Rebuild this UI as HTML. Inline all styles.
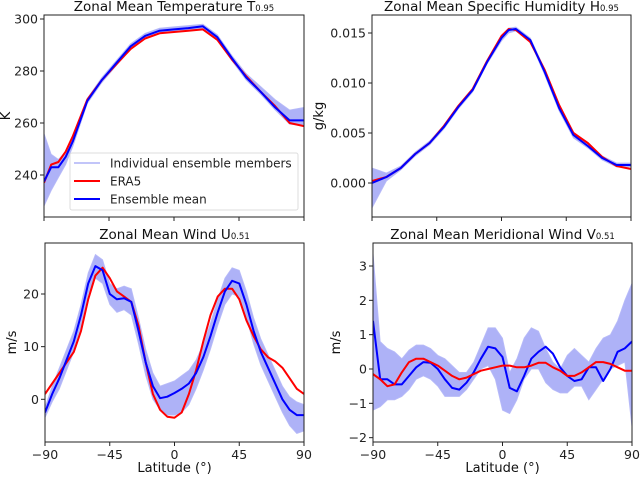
<!DOCTYPE html>
<html><head><meta charset="utf-8">
<style>
html,body{margin:0;padding:0;background:#fff;}
svg{display:block;font-family:"DejaVu Sans","Liberation Sans",sans-serif;}
</style></head>
<body>
<svg id="chart" width="640" height="478" viewBox="0 0 640 478" xmlns="http://www.w3.org/2000/svg"></svg>
<script>
// ---- Data ----
const latsT = [-90,-85,-80,-75,-70,-60,-50,-40,-30,-20,-10,0,10,20,30,40,50,60,70,80,90];
const tMean = [237.5,243,243,247,253,268.5,276.5,283,289.5,293.5,295.5,296,296.5,297.2,293,285,277.5,272,266,261,261];
const tEra5 = [237,244,245,249,255,269,276.5,282.5,288.5,292.5,294.5,295,295.5,296,292,284.5,278,272,266.5,260,258.8];
const tHi   = [256,248,246,249,254.5,269.5,277.5,284,290.5,294.5,296.5,297,297.5,298,294,286,279,274,269,265,266];
const tLo   = [228,234,239,244,251,267.5,275.5,282,288.5,292.5,294.5,295,295.5,296.2,292,284,276.5,271,265,259.5,259];
const tTicks = [240,260,280,300];

const latsH = [-90,-80,-70,-60,-50,-40,-30,-20,-10,0,5,10,20,30,40,50,60,70,80,90];
const hMean = [0.0000,0.0006,0.0015,0.0029,0.0040,0.0056,0.0076,0.0093,0.0121,0.0145,0.0153,0.0154,0.0143,0.0111,0.0075,0.0048,0.0037,0.0025,0.0018,0.0018];
const hEra5 = [0.0002,0.0006,0.0015,0.0029,0.0040,0.0057,0.0077,0.0094,0.0122,0.0147,0.0154,0.0153,0.0141,0.0113,0.0078,0.0050,0.0040,0.0026,0.0017,0.0014];
const hHi   = [0.0015,0.0010,0.0017,0.0031,0.0042,0.0058,0.0078,0.0095,0.0123,0.0147,0.0155,0.0156,0.0145,0.0114,0.0078,0.0051,0.0040,0.0027,0.0020,0.0020];
const hLo   = [-0.0025,0.0002,0.0013,0.0027,0.0038,0.0054,0.0074,0.0091,0.0119,0.0142,0.0150,0.0152,0.0141,0.0108,0.0072,0.0045,0.0035,0.0023,0.0016,0.0016];
const hTicks = [0.000,0.005,0.010,0.015];
const hTickLabels = ["0.000","0.005","0.010","0.015"];

const lats5 = [-90,-85,-80,-75,-70,-65,-60,-55,-50,-45,-40,-35,-30,-25,-20,-15,-10,-5,0,5,10,15,20,25,30,35,40,45,50,55,60,65,70,75,80,85,90];
const uMean = [-2.5,1,4,7.5,11,16,22,25.3,24.5,20,19,19.2,18.5,13,7,2.5,0.2,0.5,1.2,2,3,5,8,12,16.5,20.5,22.5,22,18,13,9,6,3,0,-2,-3,-3];
const uEra5 = [1,3,5,7,9,13,19,23.5,25,23,20.5,19.5,18.5,14,7,1,-2,-3.3,-3.5,-2.5,1,5.5,11,16,19.5,21,21,19,15,12,9.5,8,7.2,6,4,2,1];
const uHi   = [-1.5,2.5,6,9.5,13,18,24,27.5,26.5,22,21,21.5,21,15.5,9.5,5,2.5,3,3.5,4.5,5.5,7.5,10.5,14.5,19,23,25,24.5,20.5,15.5,11.5,8.5,5.5,2.5,0.5,-0.5,-1];
const uLo   = [-3.5,-0.5,2,5.5,9,14,20,23,22,18,16.5,17,16,10.5,4.5,0,-2,-3,-3,-2.5,-1,2,5.5,9.5,14,18,20,19.5,15.5,10.5,6.5,3.5,0.5,-2.5,-5,-6.5,-6];
const uTicks = [0,10,20];

const vMean = [1.4,-0.3,-0.3,-0.45,-0.45,-0.2,0.05,0.2,0.18,0,-0.3,-0.55,-0.6,-0.4,-0.1,0.3,0.65,0.6,0.35,-0.55,-0.65,-0.2,0.3,0.5,0.65,0.45,0.05,-0.2,-0.35,-0.3,0.05,0.05,-0.35,0,0.5,0.6,0.8];
const vEra5 = [-0.15,-0.3,-0.5,-0.45,-0.1,0.2,0.3,0.3,0.2,0.1,-0.05,-0.2,-0.3,-0.25,-0.15,-0.05,0,0.05,0.1,0.1,0.05,0.05,0.1,0.18,0.18,0.05,-0.05,-0.2,-0.2,-0.1,0.05,0.2,0.2,0.15,0.05,-0.05,-0.05];
const vHi   = [3.4,0.8,0.6,0.5,0.3,0.55,0.7,0.7,0.6,0.4,0.3,0.1,-0.1,-0.1,0.2,0.7,1.2,1.2,0.9,-0.1,0.3,0.9,1.2,1.1,0.6,0.2,0,0.4,0.6,0.4,0.2,0.6,0.9,1.0,1.4,2.0,2.5];
const vLo   = [-1.2,-1.1,-0.9,-0.9,-0.8,-0.6,-0.3,-0.2,-0.3,-0.5,-0.8,-0.8,-0.8,-0.6,-0.3,0,0.1,-0.3,-1.2,-1.3,-0.9,-0.3,0,0,-0.4,-0.6,-0.7,-0.7,-0.5,-0.5,-0.9,-0.6,-0.3,0,0.1,0.2,-1.7];
const vTicks = [-2,-1,0,1,2,3];

const xTicks = [-90,-45,0,45,90];
const xTickLabels = ["\u221290","\u221245","0","45","90"];

// ---- Drawing ----
const NS = "http://www.w3.org/2000/svg";
const svg = document.getElementById('chart');
function mk(tag, attrs, parent){
  const e = document.createElementNS(NS, tag);
  for (const k in attrs) e.setAttribute(k, attrs[k]);
  (parent||svg).appendChild(e);
  return e;
}
function panel(cfg){
  const g = mk('g', {});
  
  
  const X = v => cfg.x0 + (v + 90) / 180 * (cfg.x1 - cfg.x0);
  const Y = v => cfg.yPx0 + (v - cfg.yV0) / (cfg.yV1 - cfg.yV0) * (cfg.yPx1 - cfg.yPx0);
  const clipId = 'clip-' + cfg.name;
  const cp = mk('clipPath', {id: clipId}, g);
  mk('rect', {x: cfg.x0, y: cfg.top, width: cfg.x1 - cfg.x0, height: cfg.bottom - cfg.top}, cp);
  const plot = mk('g', {'clip-path': 'url(#' + clipId + ')'}, g);
  let d = '';
  cfg.lats.forEach((la, i) => { d += (i ? 'L' : 'M') + X(la).toFixed(1) + ' ' + Y(cfg.hi[i]).toFixed(1); });
  for (let i = cfg.lats.length - 1; i >= 0; i--) d += 'L' + X(cfg.lats[i]).toFixed(1) + ' ' + Y(cfg.lo[i]).toFixed(1);
  d += 'Z';
  const band = mk('path', {d: d, fill: '#aeb2f7', stroke: '#b8bbf8', 'stroke-width': 0.8}, plot);
  
  
  const line = (vals, color, nm) => {
    const pts = cfg.lats.map((la, i) => X(la).toFixed(1) + ',' + Y(vals[i]).toFixed(1)).join(' ');
    const p = mk('polyline', {points: pts, fill: 'none', stroke: color, 'stroke-width': 2, 'stroke-linejoin': 'round'}, plot);
    
    
  };
  if (cfg.redFirst) { line(cfg.mean, '#0000ff', 'ensemble-mean-line'); line(cfg.era, '#ff0000', 'era5-line'); }
  else { line(cfg.era, '#ff0000', 'era5-line'); line(cfg.mean, '#0000ff', 'ensemble-mean-line'); }
  const fr = mk('rect', {x: cfg.x0, y: cfg.top, width: cfg.x1 - cfg.x0, height: cfg.bottom - cfg.top, fill: 'none', stroke: '#222', 'stroke-width': 1}, g);
  
  
  cfg.yTicks.forEach((t, i) => {
    const y = Y(t);
    mk('line', {x1: cfg.x0 - 4, x2: cfg.x0, y1: y, y2: y, stroke: '#222', 'stroke-width': 1}, g);
    const tx = mk('text', {x: cfg.x0 - 6, y: y + 4.5, 'text-anchor': 'end', 'font-size': 12.5, fill: '#222'}, g);
    tx.textContent = cfg.yLabels ? cfg.yLabels[i] : String(t).replace('-', '\u2212');
    
    
  });
  xTicks.forEach((t, i) => {
    const x = X(t);
    mk('line', {x1: x, x2: x, y1: cfg.bottom, y2: cfg.bottom + 4, stroke: '#222', 'stroke-width': 1}, g);
    if (cfg.xLabels) {
      const tx = mk('text', {x: x, y: cfg.bottom + 17, 'text-anchor': 'middle', 'font-size': 12.5, fill: '#222'}, g);
      tx.textContent = xTickLabels[i];
      
      
    }
  });
  const ti = mk('text', {x: (cfg.x0 + cfg.x1) / 2, y: cfg.top - 4, 'text-anchor': 'middle', 'font-size': 13.5, fill: '#111'}, g);
  
  
  ti.appendChild(document.createTextNode(cfg.title));
  const sub = mk('tspan', {'font-size': 8.5}, ti);
  sub.textContent = cfg.sub;
  const yl = mk('text', {x: 0, y: 0, 'text-anchor': 'middle', 'font-size': 13, fill: '#111', transform: 'translate(' + cfg.ylx + ',' + ((cfg.top + cfg.bottom) / 2) + ') rotate(-90)'}, g);
  yl.textContent = cfg.ylabel;
  
  
  if (cfg.xLabels) {
    const xl = mk('text', {x: (cfg.x0 + cfg.x1) / 2, y: 472, 'text-anchor': 'middle', 'font-size': 13, fill: '#111'}, g);
    xl.textContent = 'Latitude (\u00b0)';
    
    
  }
}

panel({name:'temperature-panel', x0:44, x1:304, top:15, bottom:217, yV0:260, yV1:300, yPx0:123, yPx1:19,
  lats:latsT, mean:tMean, era:tEra5, hi:tHi, lo:tLo, yTicks:tTicks, title:'Zonal Mean Temperature T', sub:'0.95', ylabel:'K', ylx:10});
panel({name:'humidity-panel', x0:372, x1:631, top:15, bottom:217, yV0:0, yV1:0.015, yPx0:183, yPx1:33,
  lats:latsH, mean:hMean, era:hEra5, hi:hHi, lo:hLo, yTicks:hTicks, yLabels:hTickLabels, title:'Zonal Mean Specific Humidity H', sub:'0.95', ylabel:'g/kg', ylx:323});
panel({name:'zonal-wind-panel', x0:45, x1:304, top:243, bottom:442, yV0:0, yV1:20, yPx0:399.3, yPx1:294,
  lats:lats5, mean:uMean, era:uEra5, hi:uHi, lo:uLo, yTicks:uTicks, title:'Zonal Mean Wind U', sub:'0.51', ylabel:'m/s', ylx:16, xLabels:true});
panel({name:'meridional-wind-panel', x0:373, x1:632, top:243, bottom:442, yV0:0, yV1:3, yPx0:369, yPx1:266,
  lats:lats5, mean:vMean, era:vEra5, hi:vHi, lo:vLo, yTicks:vTicks, title:'Zonal Mean Meridional Wind V', sub:'0.51', ylabel:'m/s', ylx:340, xLabels:true, redFirst:true});

const lg = mk('g', {});


mk('rect', {x:70, y:153, width:228, height:57, rx:2, fill:'rgba(255,255,255,0.85)', stroke:'#ddd', 'stroke-width':1}, lg);
const items = [['Individual ensemble members','#aeb2f7',1.5],['ERA5','#ff0000',2],['Ensemble mean','#0000ff',2]];
items.forEach((it, i) => {
  const y = 163 + i * 18;
  const en = mk('g', {}, lg);
  
  
  mk('line', {x1:74, x2:100, y1:y, y2:y, stroke:it[1], 'stroke-width':it[2]}, en);
  const t = mk('text', {x:110, y:y + 4.5, 'font-size':12, fill:'#222'}, en);
  t.textContent = it[0];
});
</script>
</body></html>
